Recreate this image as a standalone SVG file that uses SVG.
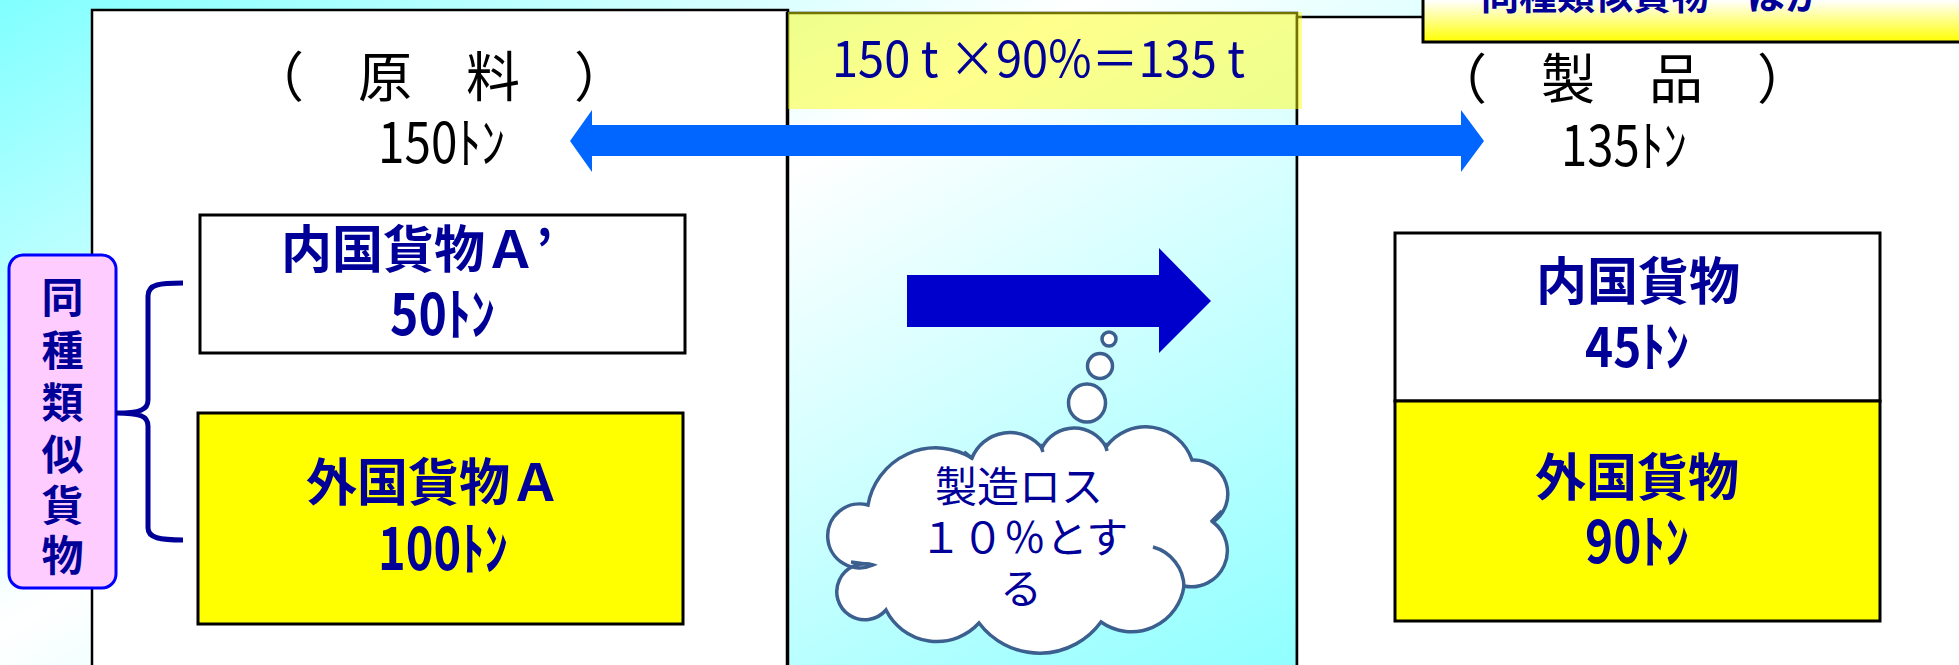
<svg xmlns="http://www.w3.org/2000/svg" width="1959" height="665" viewBox="0 0 1959 665">
<defs>
<linearGradient id="bg" gradientUnits="userSpaceOnUse" x1="0" y1="0" x2="785" y2="1348">
<stop offset="0" stop-color="#80ffff"/>
<stop offset="0.35" stop-color="#ffffff"/>
<stop offset="0.85" stop-color="#80ffff"/>
<stop offset="1" stop-color="#80ffff"/>
</linearGradient>
<linearGradient id="yg" x1="0" y1="0" x2="0" y2="1">
<stop offset="0.42" stop-color="#ffffff"/>
<stop offset="1" stop-color="#ffff00"/>
</linearGradient>
<style>
.frame{fill:#ffffff;stroke:#000000;stroke-width:2.5}
.box{stroke:#000000;stroke-width:3}
.jp{font-family:"Noto Sans CJK JP","Noto Sans CJK SC",sans-serif}
.navy{fill:#000099;font-weight:bold}
.thin{fill:#000099;font-weight:normal}
.blk{fill:#000000}
.mid{text-anchor:middle}
.cloud{fill:#ffffff;stroke:#3b5f8e;stroke-width:3.5}
</style>
</defs>
<rect x="0" y="0" width="1959" height="665" fill="url(#bg)"/>

<g id="raw-frame">
<rect class="frame" x="92" y="10" width="696" height="700"/>
<text class="jp blk mid" x="439" y="97" font-size="54">（　原　料　）</text>
<text class="jp blk" x="378" y="163" font-size="56" textLength="127" lengthAdjust="spacingAndGlyphs">150ﾄﾝ</text>
</g>

<g id="process-frame">
<rect x="787" y="13" width="510" height="700" fill="none" stroke="#000000" stroke-width="2.5"/>
</g>

<g id="product-frame">
<rect class="frame" x="1297" y="17" width="700" height="700"/>
<text class="jp blk mid" x="1622" y="99" font-size="54">（　製　品　）</text>
<text class="jp blk" x="1561" y="166" font-size="56" textLength="126" lengthAdjust="spacingAndGlyphs">135ﾄﾝ</text>
</g>

<g id="domestic-a">
<rect class="box" x="200" y="215" width="485" height="138" fill="#ffffff"/>
<text class="jp navy" x="281" y="268" font-size="51">内国貨物Ａ’</text>
<text class="jp navy" x="390" y="335" font-size="57" textLength="105" lengthAdjust="spacingAndGlyphs">50ﾄﾝ</text>
</g>

<g id="foreign-a">
<rect class="box" x="198" y="413" width="485" height="211" fill="#ffff00"/>
<text class="jp navy" x="306" y="501" font-size="51">外国貨物Ａ</text>
<text class="jp navy" x="378" y="570" font-size="58" textLength="130" lengthAdjust="spacingAndGlyphs">100ﾄﾝ</text>
</g>

<g id="similar-goods">
<rect x="9" y="255" width="107" height="333" rx="14" ry="14" fill="#ffccff" stroke="#0000ff" stroke-width="3"/>
<g class="jp navy mid" font-size="42">
<text x="62.5" y="313">同</text>
<text x="62.5" y="366">種</text>
<text x="62.5" y="418">類</text>
<text x="62.5" y="470">似</text>
<text x="62.5" y="521">貨</text>
<text x="62.5" y="571">物</text>
</g>
</g>

<g id="domestic-product">
<rect class="box" x="1395" y="233" width="485" height="168" fill="#ffffff"/>
<text class="jp navy mid" x="1638" y="300" font-size="51">内国貨物</text>
<text class="jp navy" x="1585" y="367" font-size="54" textLength="104" lengthAdjust="spacingAndGlyphs">45ﾄﾝ</text>
</g>

<g id="foreign-product">
<rect class="box" x="1395" y="401" width="485" height="220" fill="#ffff00"/>
<text class="jp navy mid" x="1637" y="496" font-size="51">外国貨物</text>
<text class="jp navy" x="1585" y="563" font-size="58" textLength="104" lengthAdjust="spacingAndGlyphs">90ﾄﾝ</text>
</g>

<g id="loss-cloud">
<ellipse class="cloud" cx="1109" cy="339" rx="7" ry="7" stroke-width="3"/>
<ellipse class="cloud" cx="1100" cy="366" rx="12.5" ry="12.5"/>
<ellipse class="cloud" cx="1087" cy="403" rx="18.5" ry="19"/>
<path class="cloud" d="M868,505 A69,69 0 0 1 972,458 A41,41 0 0 1 1042,448 A36,36 0 0 1 1106,447 A49,49 0 0 1 1192,460 A34,34 0 0 1 1213,522 A36,36 0 0 1 1184,586 A53,53 0 0 1 1101,622 A76,76 0 0 1 979,623 A57,57 0 0 1 886,610 A28,28 0 1 1 873,565 A32,32 0 1 1 868,505 Z"/>
<path d="M1153,547 A42,42 0 0 1 1184,587 M873,565 L851,562 M964,452 L973,459 M1040,444 L1043,452 M1105,443 L1107,451 M1211,522 L1222,511" fill="none" stroke="#3b5f8e" stroke-width="3.5"/>
<g class="jp thin mid" font-size="42">
<text x="1019" y="502">製造ロス</text>
<text x="1024" y="553">１０％とす</text>
<text x="1021" y="604">る</text>
</g>
</g>

<g id="formula">
<rect x="788" y="12" width="514" height="97" fill="#ffff00" fill-opacity="0.45"/>
<text class="jp thin" x="832" y="77" font-size="50" textLength="413" lengthAdjust="spacingAndGlyphs">150 t ×90%＝135 t</text>
</g>

<g id="note">
<rect x="1423" y="-30" width="560" height="72" fill="url(#yg)" stroke="#000000" stroke-width="3"/>
<text class="jp navy" x="1481" y="9" font-size="38">同種類似貨物　ほか</text>
</g>

<g id="connectors">
<polygon points="570,141 592,110 592,125 1461,125 1461,110 1484,141 1461,172 1461,156 592,156 592,172" fill="#0066ff"/>
<polygon points="907,275 1159,275 1159,248 1211,301 1159,353 1159,327 907,327" fill="#0000cc"/>
<path d="M183,283 C160,283 148,284 148,296 L148,400 C148,410 140,413 116,413 C140,413 148,416 148,426 L148,528 C148,538 160,540 183,540" fill="none" stroke="#000099" stroke-width="5"/>
</g>
</svg>
